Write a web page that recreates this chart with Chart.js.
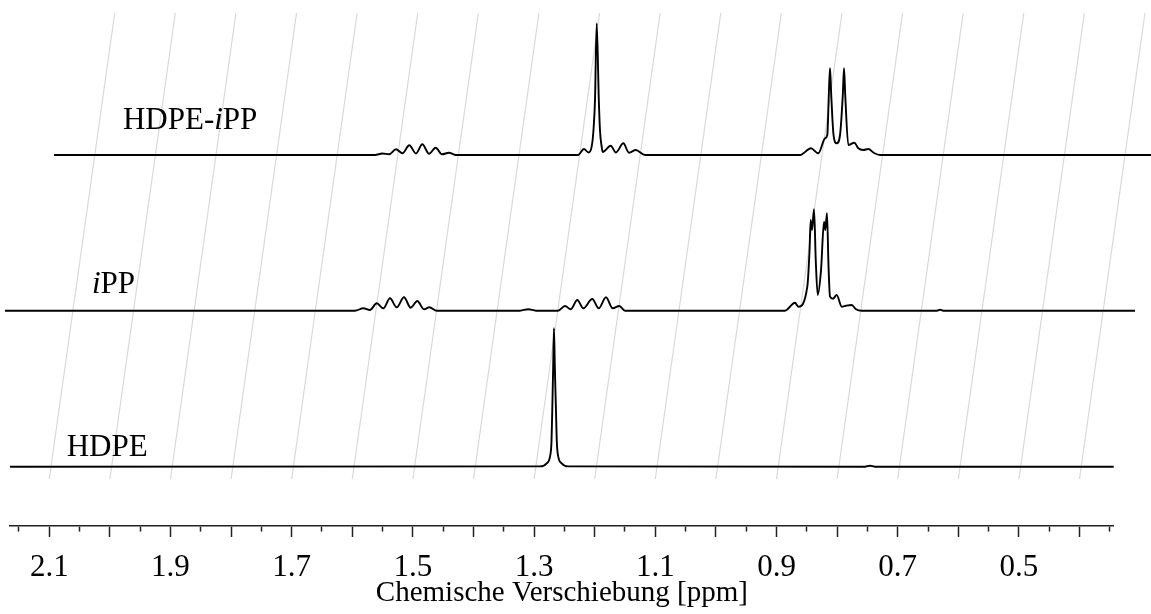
<!DOCTYPE html>
<html>
<head>
<meta charset="utf-8">
<script src="https://cdn.jsdelivr.net/npm/chart.js@4.4.1/dist/chart.umd.min.js"></script>
<style>
  html, body { margin: 0; background: #fff; }
</style>
</head>
<body>
<canvas id="nmr" width="1151" height="614"></canvas>
<script>
//---------------------------------------------------------------------------
// Data: chemical shift (ppm) and intensity above each spectrum's own baseline
const hdpePpm = [2.1648, 1.2903, 1.2792, 1.2738, 1.2713, 1.2700, 1.2685, 1.2672, 1.2658, 1.2639, 1.2625, 1.2601, 1.2545, 1.2441, 0.7540, 0.7457, 0.7375, 0.3436];
const hdpeInt = [0, 0.3, 3.4, 10, 25, 56.7, 100, 138.4, 100, 56.7, 25, 10, 3.4, 0.3, 0, 1, 0, 0];

const ippPpm = [2.1731, 1.5955, 1.5818, 1.5708, 1.5597, 1.5488, 1.5378, 1.5267, 1.5147, 1.5036, 1.4927, 1.4817, 1.4729, 1.4607,
                1.3233, 1.3096, 1.2969,
                1.2606, 1.2490, 1.2396, 1.2287, 1.2188, 1.2040, 1.1934, 1.1814, 1.1703, 1.1594, 1.1500,
                0.8860, 0.8695, 0.8640, 0.8492, 0.8455, 0.8436, 0.8414, 0.8381, 0.8352, 0.8320, 0.8266, 0.8216, 0.8195, 0.8167, 0.8142,
                0.8117, 0.8068, 0.8007, 0.7924, 0.7853, 0.7759, 0.7688, 0.7594,
                0.6350, 0.6302, 0.6250, 0.3084];
const ippInt = [0, 0, 2.4, 0.7, 7.4, 2.4, 12.4, 3.4, 13.4, 3, 9.7, 1.4, 3.4, 0,
                0, 1.5, 0,
                0, 4.7, 1.4, 10.7, 2.4, 11.7, 2.4, 13.4, 2.4, 4.7, 0,
                0, 8, 4, 24, 60, 90.7, 80.7, 101.4, 50, 15.7, 40, 89, 80.7, 97.4, 45,
                14, 12, 15.7, 4, 5, 5.7, 1.5, 0,
                0, 1, 0, 0];

const mixPpm = [2.0922, 1.5625, 1.5505, 1.5394, 1.5279, 1.5172, 1.5059, 1.4949, 1.4845, 1.4734, 1.4624, 1.4520, 1.4404, 1.4289,
                1.2276, 1.2177, 1.2102, 1.2050, 1.2020, 1.1995, 1.1967, 1.1932, 1.1913, 1.1885, 1.1868, 1.1736, 1.1649, 1.1528, 1.1434, 1.1323, 1.1170,
                0.8612, 0.8431, 0.8310, 0.8200, 0.8162, 0.8137, 0.8117, 0.8097, 0.8059, 0.8007, 0.7952, 0.7906, 0.7886, 0.7866,
                0.7815, 0.7716, 0.7650, 0.7568, 0.7485, 0.7391, 0.7292, 0.2672];
const mixInt = [0, 0, 1.5, 0.7, 5.7, 1.7, 9.7, 1.5, 10.7, 1.3, 7.3, 0.7, 2.3, 0,
                0, 6, 2.5, 8.3, 25, 55, 131.7, 55, 25, 8.3, 3, 9.3, 2.5, 11.7, 2.3, 5, 0,
                0, 6.7, 1.7, 16.7, 20, 60, 86.7, 60, 20, 11.7, 20, 60, 86.7, 60,
                10, 12.3, 6.7, 5, 6, 2, 0, 0];

const gridPpm = [2.1, 2.0, 1.9, 1.8, 1.7, 1.6, 1.5, 1.4, 1.3, 1.2, 1.1, 1.0, 0.9, 0.8, 0.7, 0.6, 0.5, 0.4];

const axisTitle = 'Chemische Verschiebung [ppm]';
// label text pieces: [text, italic]
const mixName  = [['HDPE-', false], ['i', true], ['PP', false]];
const ippName  = [['i', true], ['PP', false]];
const hdpeName = [['HDPE', false]];

//---------------------------------------------------------------------------
// Layout of the stacked plot (y in canvas-like units, 0 = axis line)
const PPM_MIN = 0.3436, PPM_MAX = 2.1648;
const Y_MAX = 526;
const BASE = { hdpe: 59.3, ipp: 215.3, mix: 371 };
const GRID_BOTTOM = 47, GRID_TOP = 513, GRID_SKEW = 0.108;
const LABEL_POS = {
  mix:  { ppm: 1.9784, y: 396.7 },
  ipp:  { ppm: 2.0295, y: 233.3 },
  hdpe: { ppm: 2.0713, y: 70 }
};
const SERIF = '"Liberation Serif", "Times New Roman", serif';

const toPoints = (ppm, vals, base) => ppm.map((p, i) => ({ x: p, y: base + vals[i] }));

const spectrum = (label, ppm, vals, base) => ({
  label: label,
  data: toPoints(ppm, vals, base),
  borderColor: '#000',
  borderWidth: 1.9,
  pointRadius: 0,
  cubicInterpolationMode: 'monotone',
  clip: false,
  order: 1
});

const gridSets = gridPpm.map(p => ({
  label: 'grid ' + p,
  data: [{ x: p, y: GRID_BOTTOM }, { x: p - GRID_SKEW, y: GRID_TOP }],
  borderColor: '#d9d9d9',
  borderWidth: 1.2,
  pointRadius: 0,
  clip: false,
  order: 2
}));

//---------------------------------------------------------------------------
const stackLabels = {
  id: 'stackLabels',
  afterDatasetsDraw(chart) {
    const { ctx, scales: { x, y } } = chart;
    const items = [[mixName, LABEL_POS.mix], [ippName, LABEL_POS.ipp], [hdpeName, LABEL_POS.hdpe]];
    ctx.save();
    ctx.fillStyle = '#000';
    ctx.textBaseline = 'alphabetic';
    ctx.textAlign = 'left';
    items.forEach(([parts, pos]) => {
      let px = x.getPixelForValue(pos.ppm);
      const py = y.getPixelForValue(pos.y);
      parts.forEach(([txt, italic]) => {
        ctx.font = (italic ? 'italic ' : '') + '31px ' + SERIF;
        ctx.fillText(txt, px, py);
        px += ctx.measureText(txt).width;
      });
    });
    ctx.restore();
  }
};

const isMajor = v => Math.round(v * 100) % 10 === 0;

new Chart(document.getElementById('nmr'), {
  type: 'line',
  data: {
    datasets: [
      spectrum('HDPE-iPP', mixPpm, mixInt, BASE.mix),
      spectrum('iPP', ippPpm, ippInt, BASE.ipp),
      spectrum('HDPE', hdpePpm, hdpeInt, BASE.hdpe)
    ].concat(gridSets)
  },
  options: {
    responsive: false,
    animation: false,
    layout: { padding: { left: 10, right: 37.3, top: 0, bottom: 0 } },
    plugins: {
      legend: { display: false },
      tooltip: { enabled: false }
    },
    scales: {
      x: {
        type: 'linear',
        reverse: true,
        min: PPM_MIN,
        max: PPM_MAX,
        afterFit: scale => { scale.height = 88; },
        border: { display: true, color: '#222', width: 1.6 },
        grid: {
          drawOnChartArea: false,
          drawTicks: true,
          tickLength: 11,
          tickColor: '#222',
          tickWidth: 1.5,
          tickBorderDash: ctx => (ctx.tick && isMajor(ctx.tick.value)) ? [] : [5, 40]
        },
        ticks: {
          stepSize: 0.05,
          includeBounds: false,
          autoSkip: false,
          maxRotation: 0,
          padding: 15,
          color: '#000',
          font: { family: SERIF, size: 31, lineHeight: 1 },
          callback: v => (Math.round(v * 100) % 20 === 10) ? v.toFixed(1) : ''
        },
        title: {
          display: true,
          text: axisTitle,
          color: '#000',
          font: { family: SERIF, size: 29, lineHeight: 1 },
          padding: { top: 0, bottom: 6 }
        }
      },
      y: {
        type: 'linear',
        display: false,
        min: 0,
        max: Y_MAX
      }
    }
  },
  plugins: [stackLabels]
});
</script>
</body>
</html>
